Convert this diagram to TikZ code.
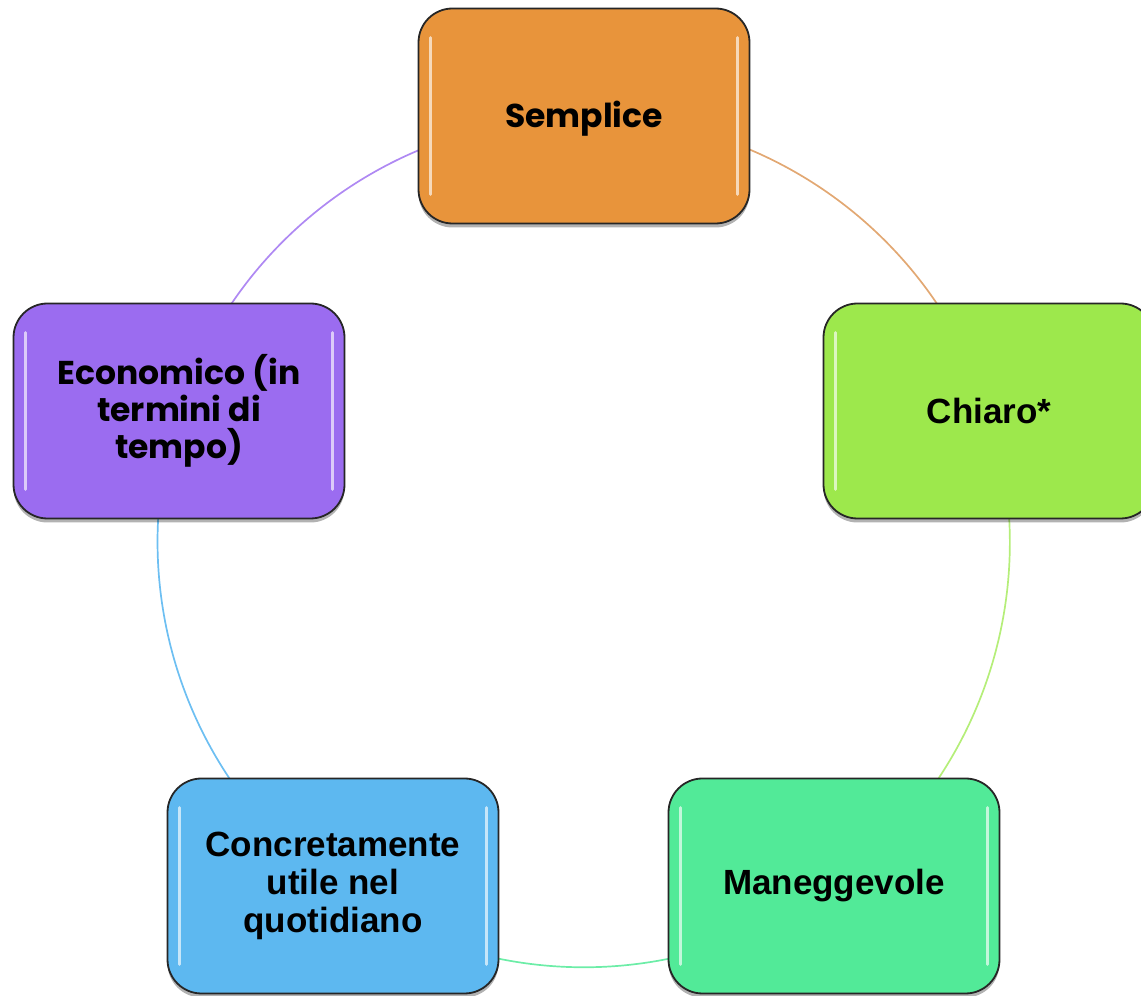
\documentclass[tikz,border=0pt]{standalone}
\usepackage{fontspec}
\setmainfont{Liberation Sans}
\newfontfamily\gothic{Poppins}
\usetikzlibrary{shadows,calc}
\pgfdeclarelayer{bg}
\pgfsetlayers{bg,main}
\definecolor{corange}{HTML}{E8943B}
\definecolor{cgreen}{HTML}{9DE84C}
\definecolor{cteal}{HTML}{52EA98}
\definecolor{cblue}{HTML}{5DB8F0}
\definecolor{cpurple}{HTML}{9B6CF0}
\definecolor{arcorange}{HTML}{E2A873}
\newcommand{\shinebox}[1]{%
  \draw[shine] ($(#1.north west)+(13,-30)$) -- ($(#1.south west)+(13,30)$);
  \draw[shine] ($(#1.north east)+(-13,-30)$) -- ($(#1.south east)+(-13,30)$);
}
\begin{document}
\begin{tikzpicture}[x=1pt,y=1pt,
  card/.style={draw=black!85, line width=1.8pt, rounded corners=34pt,
    minimum width=331pt, minimum height=215pt, inner sep=0pt, align=center,
    font=\fontsize{35}{38}\selectfont\bfseries,
    drop shadow={shadow xshift=0pt, shadow yshift=-4pt, opacity=0.3, fill=black}},
  ring/.style={line width=1.7pt},
  shine/.style={draw=white, line width=3pt, opacity=0.65, line cap=round}
]
\useasboundingbox (0,0) rectangle (1141,996);
\clip (0,0) rectangle (1141,996);

\node[card, fill=corange, font=\fontsize{33}{37}\selectfont\gothic\bfseries] (S) at (584,880) {\raisebox{-12pt}[0pt][0pt]{Semplice}};
\node[card, fill=cgreen] (C) at (989,585) {Chiaro*};
\node[card, fill=cteal] (M) at (834,110) {Maneggevole};
\node[card, fill=cblue] (Q) at (333,110) {Concretamente\\utile nel\\quotidiano};
\node[card, fill=cpurple, font=\fontsize{33}{37}\selectfont\gothic\bfseries] (E) at (179,585) {Economico (in\\termini di\\tempo)};

\shinebox{S}
\shinebox{C}
\shinebox{M}
\shinebox{Q}
\shinebox{E}

\begin{pgfonlayer}{bg}
\draw[ring, draw=arcorange] (S.center) arc[start angle=90, end angle=18, radius=425.6];
\draw[ring, draw=cgreen!75!white] (C.center) arc[start angle=18, end angle=-54, radius=425.6];
\draw[ring, draw=cteal!85!white] (M.center) arc[start angle=-54, end angle=-126, radius=425.6];
\draw[ring, draw=cblue!90!white] (Q.center) arc[start angle=-126, end angle=-198, radius=425.6];
\draw[ring, draw=cpurple!80!white] (E.center) arc[start angle=162, end angle=90, radius=425.6];
\end{pgfonlayer}
\end{tikzpicture}
\end{document}
